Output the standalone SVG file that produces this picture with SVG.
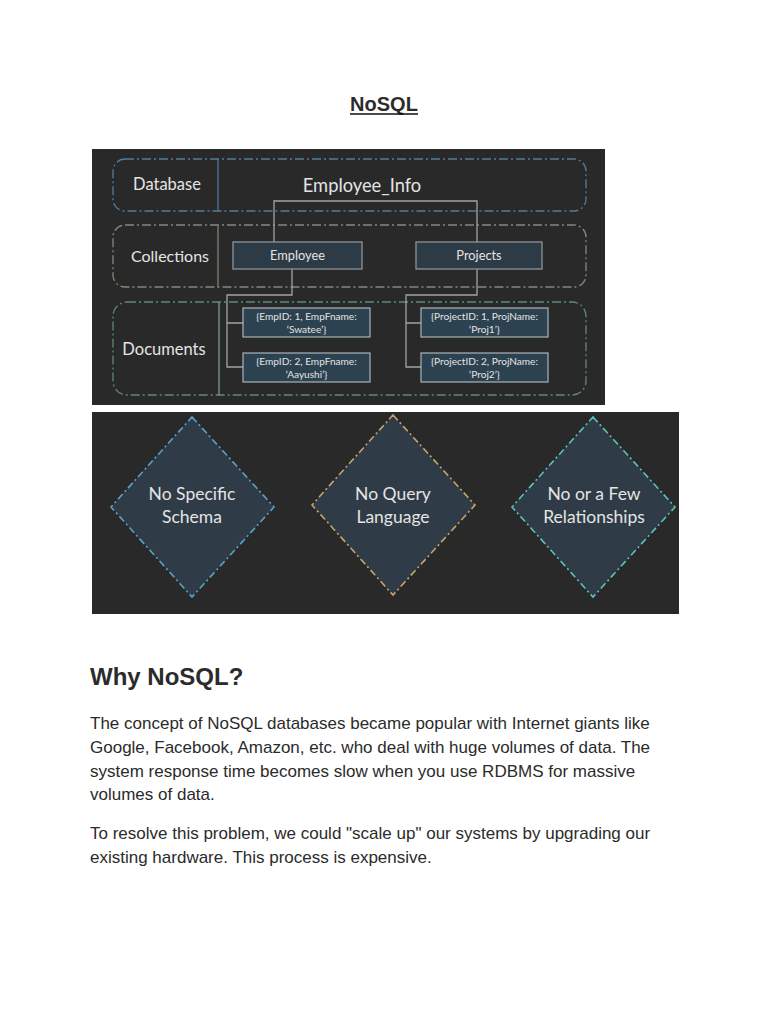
<svg xmlns="http://www.w3.org/2000/svg" width="768" height="1024" viewBox="0 0 768 1024">
<style>
.page{font-family:"Liberation Sans",Arial,sans-serif;fill:#2b2b2b}
.dg{font-family:Lato,"Open Sans",sans-serif;fill:#e4e4e4}
.lane{fill:none;stroke-width:1.3;stroke-dasharray:9 3 2 3}
.box{fill:#2d3b46;stroke:#8e9499;stroke-width:1.3}
.doc{fill:#2d4250;stroke:#a9b4b8;stroke-width:1.2}
.wire{fill:none;stroke:#a3a3a3;stroke-width:1.3}
.dia{fill:#2f3b46;stroke-width:1.6;stroke-dasharray:7 3 2 3}
</style>
<rect width="768" height="1024" fill="#ffffff"/>

<g id="title">
<text class="page" x="384" y="111" font-size="20" font-weight="bold" text-anchor="middle" fill="#111">NoSQL</text>
<line x1="350" y1="114" x2="418" y2="114" stroke="#111" stroke-width="1.5"/>
</g>

<g id="diagram-top">
<rect x="92" y="149" width="513" height="256" fill="#2a292a"/>
<g id="lane-database">
<rect class="lane" x="113" y="159" width="473" height="52" rx="12" stroke="#4f7e9f"/>
<line x1="218" y1="159" x2="218" y2="211" stroke="#4f7e9f" stroke-width="1.2"/>
<text class="dg" x="167" y="190" font-size="16.5" text-anchor="middle">Database</text>
</g>
<g id="lane-collections">
<rect class="lane" x="113" y="225" width="473" height="62" rx="12" stroke="#8c8578"/>
<line x1="218" y1="225" x2="218" y2="287" stroke="#8c8578" stroke-width="1.2"/>
<text class="dg" x="170" y="262" font-size="16" text-anchor="middle">Collections</text>
</g>
<g id="lane-documents">
<rect class="lane" x="113" y="302" width="473" height="93" rx="14" stroke="#5f8682"/>
<line x1="219" y1="302" x2="219" y2="395" stroke="#7fa5a2" stroke-width="1.2"/>
<text class="dg" x="164" y="355" font-size="16.5" text-anchor="middle">Documents</text>
</g>
<g id="node-employee-info">
<text class="dg" x="362" y="192" font-size="18.3" text-anchor="middle">Employee_Info</text>
</g>
<g id="connectors">
<path class="wire" d="M274,242 V201 H477 V242"/>
<path class="wire" d="M292,269 V295 H227 V367 H243 M227,323 H243"/>
<path class="wire" d="M477,269 V295 H406 V367 H421 M406,323 H421"/>
</g>
<g id="node-employee">
<rect class="box" x="233" y="242" width="129" height="27"/>
<text class="dg" x="297.5" y="260" font-size="12.8" text-anchor="middle">Employee</text>
</g>
<g id="node-projects">
<rect class="box" x="416" y="242" width="126" height="27"/>
<text class="dg" x="479" y="260" font-size="12.8" text-anchor="middle">Projects</text>
</g>
<g id="node-emp1">
<rect class="doc" x="243" y="308" width="127" height="29"/>
<text class="dg" x="306.5" y="320" font-size="10.1" text-anchor="middle">{EmpID: 1, EmpFname:</text>
<text class="dg" x="306.5" y="333" font-size="10.1" text-anchor="middle">‘Swatee’}</text>
</g>
<g id="node-emp2">
<rect class="doc" x="243" y="353" width="127" height="29"/>
<text class="dg" x="306.5" y="365" font-size="10.1" text-anchor="middle">{EmpID: 2, EmpFname:</text>
<text class="dg" x="306.5" y="378" font-size="10.1" text-anchor="middle">‘Aayushi’}</text>
</g>
<g id="node-proj1">
<rect class="doc" x="421" y="308" width="127" height="29"/>
<text class="dg" x="484.5" y="320" font-size="10.1" text-anchor="middle">{ProjectID: 1, ProjName:</text>
<text class="dg" x="484.5" y="333" font-size="10.1" text-anchor="middle">‘Proj1’}</text>
</g>
<g id="node-proj2">
<rect class="doc" x="421" y="353" width="127" height="29"/>
<text class="dg" x="484.5" y="365" font-size="10.1" text-anchor="middle">{ProjectID: 2, ProjName:</text>
<text class="dg" x="484.5" y="378" font-size="10.1" text-anchor="middle">‘Proj2’}</text>
</g>
</g>

<g id="diagram-bottom">
<rect x="92" y="412" width="587" height="202" fill="#2a292a"/>
<g id="node-schema">
<polygon class="dia" points="192,417 274,507 192,597 111,507" stroke="#5aa2c6"/>
<text class="dg" x="192" y="500" font-size="17.5" text-anchor="middle">No Specific</text>
<text class="dg" x="192" y="523" font-size="17.5" text-anchor="middle">Schema</text>
</g>
<g id="node-query">
<polygon class="dia" points="393,415 475,505 393,595 312,505" stroke="#c8a46b"/>
<text class="dg" x="393" y="500" font-size="17.5" text-anchor="middle">No Query</text>
<text class="dg" x="393" y="523" font-size="17.5" text-anchor="middle">Language</text>
</g>
<g id="node-relationships">
<polygon class="dia" points="593,417 675,507 593,597 512,507" stroke="#5cc2b6"/>
<text class="dg" x="594" y="500" font-size="17.5" text-anchor="middle">No or a Few</text>
<text class="dg" x="594" y="523" font-size="17.5" text-anchor="middle">Relationships</text>
</g>
</g>

<g id="article">
<text class="page" x="90" y="685" font-size="24" font-weight="bold" fill="#222">Why NoSQL?</text>
<text class="page" x="90" y="729" font-size="17">The concept of NoSQL databases became popular with Internet giants like</text>
<text class="page" x="90" y="753" font-size="17">Google, Facebook, Amazon, etc. who deal with huge volumes of data. The</text>
<text class="page" x="90" y="777" font-size="17">system response time becomes slow when you use RDBMS for massive</text>
<text class="page" x="90" y="800" font-size="17">volumes of data.</text>
<text class="page" x="90" y="839" font-size="17">To resolve this problem, we could "scale up" our systems by upgrading our</text>
<text class="page" x="90" y="863" font-size="17">existing hardware. This process is expensive.</text>
</g>
</svg>
